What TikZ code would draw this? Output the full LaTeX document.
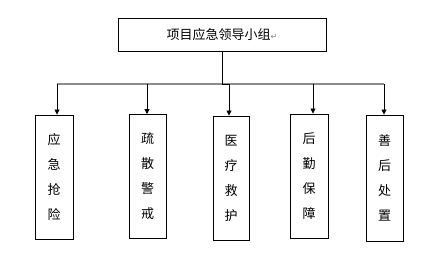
\documentclass[tikz,border=0pt]{standalone}
\usepackage{fontspec}
\setmainfont{Noto Sans CJK SC}
\newfontfamily\symfont{DejaVu Sans}
\usetikzlibrary{arrows.meta}
\begin{document}
\begin{tikzpicture}[x=1pt,y=-1pt,
  topbox/.style={draw=black,line width=0.9pt,minimum width=208pt,minimum height=33pt,inner sep=0pt,font=\fontsize{13}{13}\selectfont},
  subbox/.style={draw=black,line width=0.9pt,minimum width=37pt,minimum height=124pt,inner sep=0pt,align=center,font=\fontsize{13}{25}\selectfont},
  arr/.style={draw=black,line width=0.8pt,-{Triangle[width=5pt,length=5pt]}},
  bus/.style={draw=gray!90,line width=1.4pt}]
\useasboundingbox (0,0) rectangle (443,270);
\node[topbox] (top) at (222,34.5) {项目应急领导小组{\symfont\fontsize{8}{8}\selectfont\color{gray}↵}};
\node[subbox,minimum width=38pt] (b1) at (54,177) {应\\急\\抢\\险};
\node[subbox] (b2) at (147.5,176.5) {疏\\散\\警\\戒};
\node[subbox,minimum width=36pt] (b3) at (231,178) {医\\疗\\救\\护};
\node[subbox,minimum width=38pt] (b4) at (309,176) {后\\勤\\保\\障};
\node[subbox,minimum height=126pt] (b5) at (384.5,178) {善\\后\\处\\置};
\coordinate (h1) at (57,84);
\coordinate (h2) at (147,84);
\coordinate (h3) at (229,84);
\coordinate (h4) at (313,84);
\coordinate (h5) at (384,84);
\draw[bus] (h1) -- (h5);
\draw[line width=0.8pt] (top.south) |- (h3);
\foreach \i in {1,...,5} {\draw[arr] (h\i) -- (h\i |- b\i.north);}
\end{tikzpicture}
\end{document}
